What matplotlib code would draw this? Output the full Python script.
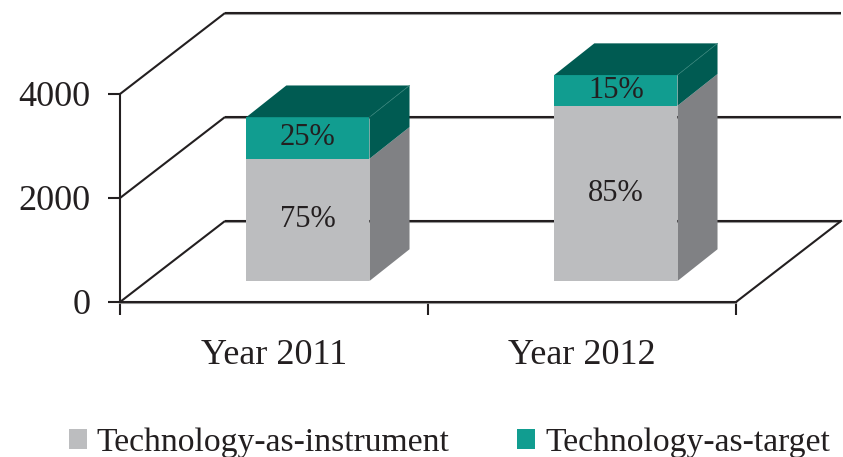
import matplotlib
matplotlib.use('Agg')
import matplotlib.pyplot as plt
from matplotlib.patches import Polygon, Patch
import matplotlib.patheffects as pe

# ---- data ----
categories = ['Year 2011', 'Year 2012']
instrument = [2350, 3370]
target = [800, 590]
series_names = ['Technology-as-instrument', 'Technology-as-target']
yticks = [0, 2000, 4000]
ytick_labels = ['0', '2000', '4000']

# ---- style ----
plt.rcParams['font.family'] = ['Liberation Serif', 'DejaVu Serif']
TXT = '#231F20'
front_cols = ['#BCBDBF', '#119D90']
side_cols = ['#808184', '#005B52']
top_col = '#005B52'

fig = plt.figure(figsize=(8.43, 4.57), dpi=100)
fig.patch.set_facecolor('white')
ax = fig.add_axes([120 / 843, 155 / 457, 616 / 843, 208 / 457])
ax.set_xlim(0, 2)
ax.set_ylim(0, 4000)
ax.set_facecolor('none')

# oblique depth of the floor / walls (axis units)
DX, DY = 0.341, 1558
# bar placement inside the depth
FX, FY = 0.11, 404
BX, BY = 0.13, 610
W = 0.4

shadow = [pe.SimpleLineShadow(offset=(0, -1.0), shadow_color='#909090', alpha=0.9),
          pe.Normal()]
LW = 1.5

# back wall gridlines and left wall diagonals
for v in yticks:
    ax.plot([DX, 2 + DX], [v + DY, v + DY], color=TXT, lw=LW, clip_on=False,
            zorder=1, path_effects=shadow, solid_capstyle='butt')
    ax.plot([0, DX], [v, v + DY], color=TXT, lw=LW, clip_on=False, zorder=1,
            solid_capstyle='butt')
# floor right edge
ax.plot([2, 2 + DX], [0, DY], color=TXT, lw=LW, clip_on=False, zorder=1)

# bars
for i, cat in enumerate(categories):
    segs = [instrument[i], target[i]]
    total = sum(segs)
    x0 = i + 0.5 - W / 2 + FX
    x1 = x0 + W
    b = FY
    for k, val in enumerate(segs):
        t = b + val
        ax.add_patch(Polygon([(x1, b), (x1 + BX, b + BY), (x1 + BX, t + BY), (x1, t)],
                             closed=True, facecolor=side_cols[k], edgecolor='none',
                             clip_on=False, zorder=3))
        ax.add_patch(Polygon([(x0, b), (x1, b), (x1, t), (x0, t)], closed=True,
                             facecolor=front_cols[k], edgecolor='none',
                             clip_on=False, zorder=4))
        ax.text((x0 + x1) / 2, (b + t) / 2, f'{round(100 * val / total)}%',
                ha='center', va='center', fontsize=22, color=TXT, zorder=6)
        b = t
    ax.add_patch(Polygon([(x0, b), (x1, b), (x1 + BX, b + BY), (x0 + BX, b + BY)],
                         closed=True, facecolor=top_col, edgecolor='none',
                         clip_on=False, zorder=5))
    ax.plot([x1, x1 + BX], [b, b + BY], color='#2E7F75', lw=0.5, clip_on=False, zorder=5)

# axes, ticks
for s in ['top', 'right']:
    ax.spines[s].set_visible(False)
for s in ['left', 'bottom']:
    ax.spines[s].set_color(TXT)
    ax.spines[s].set_linewidth(LW)
ax.spines['bottom'].set_path_effects(shadow)

ax.set_yticks(yticks)
ax.set_yticklabels(ytick_labels)
ax.tick_params(axis='y', direction='out', length=9, width=LW, pad=12,
               labelsize=26, colors=TXT)
ax.set_xticks([0, 1, 2])
ax.set_xticklabels([])
ax.tick_params(axis='x', which='major', direction='out', length=9, width=LW, colors=TXT)
ax.set_xticks([0.5, 1.5], minor=True)
ax.set_xticklabels(categories, minor=True)
ax.tick_params(axis='x', which='minor', length=0, pad=27, labelsize=26, colors=TXT)

# legend
handles = [Patch(facecolor=front_cols[0], edgecolor='none'),
           Patch(facecolor=front_cols[1], edgecolor='none')]
fig.legend(handles, series_names, loc='center', bbox_to_anchor=(0.533, 0.032),
           ncol=2, frameon=False, fontsize=24.2, labelcolor=TXT,
           handlelength=0.54, handleheight=0.54, handletextpad=0.3,
           columnspacing=2.0, borderpad=0, borderaxespad=0)

fig.savefig('out.png', dpi=100)
